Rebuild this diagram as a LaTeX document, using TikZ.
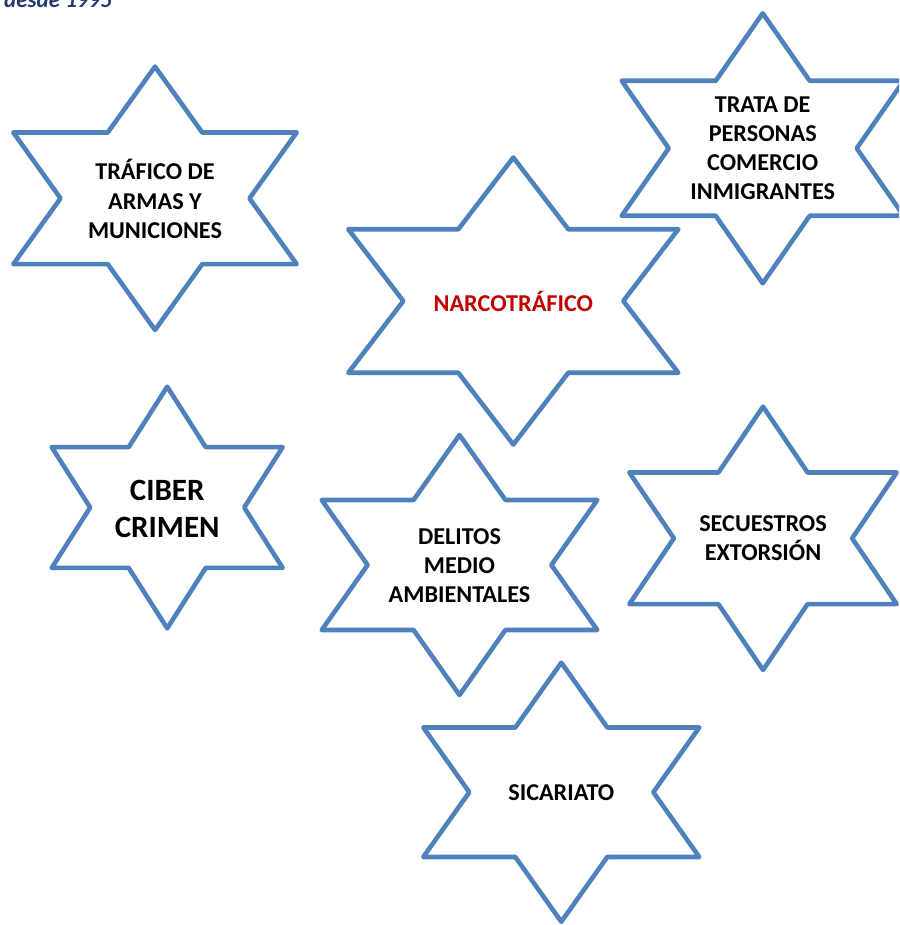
\documentclass[tikz,border=0pt]{standalone}
\usepackage{fontspec}
\setmainfont{Carlito}
\definecolor{starblue}{RGB}{79,129,189}
\definecolor{narcored}{RGB}{192,0,0}
\definecolor{headnavy}{RGB}{36,56,110}
\tikzset{
  starline/.style={draw=starblue, fill=white, line width=4.6pt, line join=round},
  startext/.style={align=center, inner sep=0pt, text=black,
    font=\bfseries\fontsize{24.2}{29.2}\selectfont},
  bigtext/.style={startext, font=\bfseries\fontsize{31}{37}\selectfont},
  redtext/.style={startext, text=narcored}
}
% #1 cx, #2 cy, #3 width, #4 height
\newcommand\hexstar[4]{%
  \begin{scope}[shift={(#1,#2)}, xscale=#3, yscale=#4]
    \path[starline] (0,-0.5) -- (1/6,-0.25) -- (0.5,-0.25) -- (1/3,0)
      -- (0.5,0.25) -- (1/6,0.25) -- (0,0.5) -- (-1/6,0.25)
      -- (-0.5,0.25) -- (-1/3,0) -- (-0.5,-0.25) -- (-1/6,-0.25) -- cycle;
  \end{scope}}
\begin{document}
\begin{tikzpicture}[x=1pt,y=-1pt]
\useasboundingbox (0,0) rectangle (899,925);
\clip (0,0) rectangle (899,925);
\node[anchor=base west, inner sep=0pt, text=headnavy,
  font=\bfseries\itshape\fontsize{23}{28}\selectfont] (head) at (4,8) {desde 1995};

\hexstar{155}{198.3}{283.4}{263.3}
\node[startext] (trafico) at (155,199) {TRÁFICO DE\\ARMAS Y\\MUNICIONES};

\hexstar{762.7}{148.3}{282}{270}
\node[startext] (trata) at (762.7,148.3) {TRATA DE\\PERSONAS\\COMERCIO\\INMIGRANTES};

\hexstar{513.3}{301}{330}{287}
\node[redtext] (narco) at (513.3,301) {NARCOTRÁFICO};

\hexstar{167.2}{507.5}{231}{241.6}
\node[bigtext] (ciber) at (167.2,508.5) {CIBER\\CRIMEN};

\hexstar{459.5}{565}{275.6}{260}
\node[startext] (delitos) at (459.5,565.5) {DELITOS\\MEDIO\\AMBIENTALES};

\hexstar{763}{538.3}{267.4}{263.3}
\node[startext] (secuestros) at (763,538.5) {SECUESTROS\\EXTORSIÓN};

\hexstar{561.3}{792.2}{276}{259}
\node[startext] (sicariato) at (561.3,793) {SICARIATO};
\end{tikzpicture}
\end{document}
